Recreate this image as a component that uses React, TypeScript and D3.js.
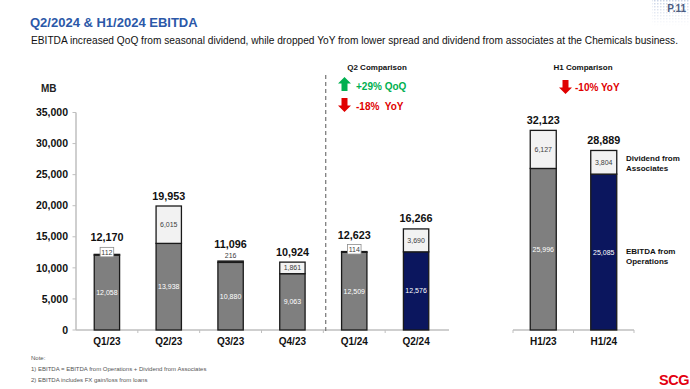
import React from "react";
import * as d3 from "d3";

const categories = ["Q1/23", "Q2/23", "Q3/23", "Q4/23", "Q1/24", "Q2/24"];
const operations = [12058, 13938, 10880, 9063, 12509, 12576];
const dividends = [112, 6015, 216, 1861, 114, 3690];
const totals = [12170, 19953, 11096, 10924, 12623, 16266];

const h1Categories = ["H1/23", "H1/24"];
const h1Operations = [25996, 25085];
const h1Dividends = [6127, 3804];
const h1Totals = [32123, 28889];

const yTicks = [0, 5000, 10000, 15000, 20000, 25000, 30000, 35000];

const FONT = "'Liberation Sans', Arial, Helvetica, sans-serif";
const GRAY = "#7f7f7f";
const NAVY = "#0b165e";
const LIGHT = "#f2f2f2";
const AXIS = "#bfbfbf";
const GREEN = "#00b050";
const RED = "#e00000";

const fmt = d3.format(",");

const y = d3.scaleLinear().domain([0, 35000]).range([330, 112.5]);
const xQ = d3.scaleBand<string>().domain(categories).range([76, 447]).paddingInner(0.59).paddingOuter(0.295);
const xH = d3.scaleBand<string>().domain(h1Categories).range([513, 634]).paddingInner(0.57).paddingOuter(0.285);

const boxedSmall = new Set(["Q1/23", "Q1/24"]);

function Arrow({ x, y0, up, color }: { x: number; y0: number; up: boolean; color: string }) {
  const w = 13, h = 14, head = 6.5, stem = 6;
  const cx = x + w / 2;
  let pts: [number, number][];
  if (up) {
    pts = [
      [cx, y0], [x + w, y0 + head], [cx + stem / 2, y0 + head], [cx + stem / 2, y0 + h],
      [cx - stem / 2, y0 + h], [cx - stem / 2, y0 + head], [x, y0 + head],
    ];
  } else {
    pts = [
      [cx - stem / 2, y0], [cx + stem / 2, y0], [cx + stem / 2, y0 + h - head], [x + w, y0 + h - head],
      [cx, y0 + h], [x, y0 + h - head], [cx - stem / 2, y0 + h - head],
    ];
  }
  return <polygon points={pts.map((p) => p.join(",")).join(" ")} fill={color} />;
}

function Bars({ cats, ops, divs, tots, x }: { cats: string[]; ops: number[]; divs: number[]; tots: number[]; x: d3.ScaleBand<string> }) {
  const bw = x.bandwidth();
  return (
    <g>
      {cats.map((c, i) => {
        const x0 = x(c)!;
        const cx = x0 + bw / 2;
        const last = i === cats.length - 1;
        const yOpTop = y(ops[i]);
        const yTop = y(ops[i] + divs[i]);
        const small = divs[i] < 1000;
        const totalY = small ? yTop - 13 : yTop - 6.5;
        return (
          <g key={c}>
            <rect x={x0} y={yOpTop} width={bw} height={y(0) - yOpTop} fill={last ? NAVY : GRAY} stroke="#1a1a1a" strokeWidth={1.3} />
            <rect x={x0} y={yTop} width={bw} height={yOpTop - yTop} fill={LIGHT} stroke="#1a1a1a" strokeWidth={1.3} />
            <text x={cx} y={(yOpTop + y(0)) / 2} dy="0.35em" textAnchor="middle" fontSize={7} fill="#ffffff" fontFamily={FONT}>
              {fmt(ops[i])}
            </text>
            {!small && (
              <text x={cx} y={(yTop + yOpTop) / 2} dy="0.35em" textAnchor="middle" fontSize={7} fill="#404040" fontFamily={FONT}>
                {fmt(divs[i])}
              </text>
            )}
            {small && boxedSmall.has(c) && (
              <g>
                <rect x={cx - 6.8} y={yTop - 7} width={13.6} height={9.5} fill="#ffffff" stroke="#8c8c8c" strokeWidth={0.8} />
                <text x={cx} y={yTop - 2.2} dy="0.35em" textAnchor="middle" fontSize={7} fill="#404040" fontFamily={FONT}>
                  {fmt(divs[i])}
                </text>
              </g>
            )}
            {small && !boxedSmall.has(c) && (
              <text x={cx} y={yTop - 5.5} dy="0.35em" textAnchor="middle" fontSize={7} fill="#404040" fontFamily={FONT}>
                {fmt(divs[i])}
              </text>
            )}
            <text x={cx} y={totalY} textAnchor="middle" fontSize={10.8} fontWeight="bold" fill="#111" fontFamily={FONT}>
              {fmt(tots[i])}
            </text>
          </g>
        );
      })}
    </g>
  );
}

function XAxis({ x, left, right }: { x: d3.ScaleBand<string>; left: number; right: number }) {
  const step = x.step();
  const cats = x.domain();
  const bounds: number[] = [];
  for (let i = 1; i < cats.length; i++) bounds.push(x(cats[i])! - (step - x.bandwidth()) / 2);
  return (
    <g>
      <line x1={left} x2={right} y1={y(0)} y2={y(0)} stroke={AXIS} strokeWidth={1.5} />
      {bounds.map((b, i) => (
        <line key={i} x1={b} x2={b} y1={y(0)} y2={y(0) + 3} stroke={AXIS} strokeWidth={1} />
      ))}
      {cats.map((c) => (
        <text key={c} x={x(c)! + x.bandwidth() / 2} y={y(0) + 15} textAnchor="middle" fontSize={10} fontWeight="bold" fill="#111" fontFamily={FONT}>
          {c}
        </text>
      ))}
    </g>
  );
}

export default function App() {
  return (
    <svg width={690} height={389} style={{ position: "absolute", left: 0, top: 0, background: "#fff" }} fontFamily={FONT}>
      <defs>
        <pattern id="dots" width={3} height={3} patternUnits="userSpaceOnUse">
          <rect x={0} y={0} width={1.5} height={1.5} fill="#c9d3e6" />
        </pattern>
        <linearGradient id="fade" x1="0" y1="0" x2="0" y2="1">
          <stop offset="0" stopColor="#fff" stopOpacity={1} />
          <stop offset="1" stopColor="#fff" stopOpacity={0} />
        </linearGradient>
        <mask id="dotmask">
          <rect x={650} y={0} width={40} height={26} fill="url(#fade)" />
        </mask>
      </defs>
      <rect width={690} height={389} fill="#fff" />
      <rect x={652} y={0} width={38} height={26} fill="url(#dots)" mask="url(#dotmask)" />
      <text x={686} y={11.5} textAnchor="end" fontSize={10} fontWeight="bold" fill="#4d5d82">P.11</text>

      <text x={30} y={27} fontSize={13} fontWeight="bold" fill="#2b58a8">Q2/2024 &amp; H1/2024 EBITDA</text>
      <text x={31} y={44} fontSize={10} fill="#111" textLength={647} lengthAdjust="spacingAndGlyphs">
        EBITDA increased QoQ from seasonal dividend, while dropped YoY from lower spread and dividend from associates at the Chemicals business.
      </text>

      <text x={41} y={92} fontSize={10} fontWeight="bold" fill="#222">MB</text>

      <line x1={76} x2={76} y1={y(35000)} y2={y(0)} stroke={AXIS} strokeWidth={1.5} />
      {yTicks.map((t) => (
        <g key={t}>
          <line x1={72.5} x2={76} y1={y(t)} y2={y(t)} stroke={AXIS} strokeWidth={1} />
          <text x={68} y={y(t)} dy="0.35em" textAnchor="end" fontSize={10.5} fontWeight="bold" fill="#111">
            {fmt(t)}
          </text>
        </g>
      ))}

      <XAxis x={xQ} left={76} right={449} />
      <XAxis x={xH} left={513} right={634} />
      <line x1={513} x2={513} y1={y(0)} y2={y(0) + 3} stroke={AXIS} strokeWidth={1} />
      <line x1={634} x2={634} y1={y(0)} y2={y(0) + 3} stroke={AXIS} strokeWidth={1} />

      <line x1={325.7} x2={325.7} y1={75} y2={333} stroke="#7f7f7f" strokeWidth={1.3} strokeDasharray="4,3" />

      <Bars cats={categories} ops={operations} divs={dividends} tots={totals} x={xQ} />
      <Bars cats={h1Categories} ops={h1Operations} divs={h1Dividends} tots={h1Totals} x={xH} />

      <text x={377} y={67} dy="0.35em" textAnchor="middle" fontSize={8} fontWeight="bold" fill="#111">Q2 Comparison</text>
      <Arrow x={338} y0={77} up={true} color={GREEN} />
      <text x={356} y={86} dy="0.35em" fontSize={10} fontWeight="bold" fill={GREEN}>+29% QoQ</text>
      <Arrow x={338} y0={98} up={false} color={RED} />
      <text x={356} y={106} dy="0.35em" fontSize={10} fontWeight="bold" fill={RED} style={{ whiteSpace: "pre" }}>{"-18%  YoY"}</text>

      <text x={583} y={67} dy="0.35em" textAnchor="middle" fontSize={8} fontWeight="bold" fill="#111">H1 Comparison</text>
      <Arrow x={559} y0={80} up={false} color={RED} />
      <text x={575} y={87} dy="0.35em" fontSize={10} fontWeight="bold" fill={RED}>-10% YoY</text>

      <text x={626} y={161} fontSize={8} fontWeight="bold" fill="#111">Dividend from</text>
      <text x={626} y={171} fontSize={8} fontWeight="bold" fill="#111">Associates</text>
      <text x={626} y={254} fontSize={8} fontWeight="bold" fill="#111">EBITDA from</text>
      <text x={626} y={264} fontSize={8} fontWeight="bold" fill="#111">Operations</text>

      <text x={31} y={360} fontSize={6} fill="#555">Note:</text>
      <text x={31} y={371} fontSize={6} fill="#555">1) EBITDA = EBITDA from Operations + Dividend from Associates</text>
      <text x={31} y={382} fontSize={6} fill="#555">2) EBITDA includes FX gain/loss from loans</text>

      <text x={689} y={385} textAnchor="end" fontSize={14.5} fontWeight="bold" fill="#e3000f" letterSpacing={-0.5}>SCG</text>
    </svg>
  );
}
